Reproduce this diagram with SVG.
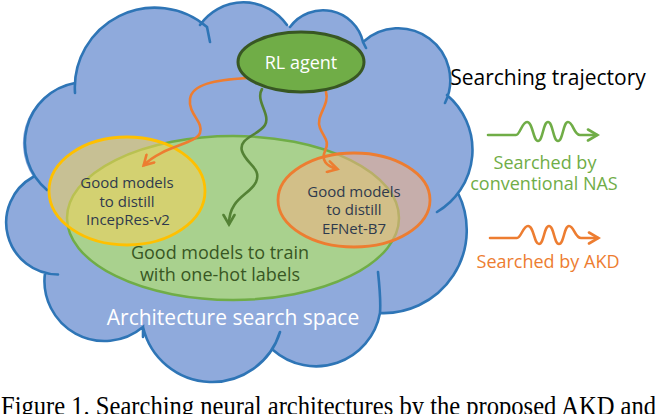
<svg xmlns="http://www.w3.org/2000/svg" width="656" height="414" viewBox="0 0 656 414">
<defs>
<style>
.cloud-fill{fill:#8FAADC;stroke:none}
.cloud-line{fill:none;stroke:#2E75B6;stroke-width:2.6;stroke-linecap:round}
.t{font-family:"Open Sans","Noto Sans",sans-serif}
.inner{font-size:15px;fill:#2F3A4D;text-anchor:middle}
.sq{fill:none;stroke-width:2.6;stroke-linecap:round;stroke-linejoin:round}
.or{stroke:#ED7D31}
.gr{stroke:#548235}
.lg{stroke:#70AD47}
</style>
<marker id="ah-or" viewBox="0 0 14 14" refX="11" refY="7" markerWidth="14" markerHeight="14" markerUnits="userSpaceOnUse" orient="auto">
<path d="M2,1.5 L11.5,7 L2,12.5" fill="none" stroke="#ED7D31" stroke-width="2.6" stroke-linejoin="miter" stroke-linecap="round"/>
</marker>
<marker id="ah-gr" viewBox="0 0 14 14" refX="11" refY="7" markerWidth="14" markerHeight="14" markerUnits="userSpaceOnUse" orient="auto">
<path d="M2,1.5 L11.5,7 L2,12.5" fill="none" stroke="#548235" stroke-width="2.6" stroke-linecap="round"/>
</marker>
<marker id="ah-lg" viewBox="0 0 14 14" refX="11" refY="7" markerWidth="14" markerHeight="14" markerUnits="userSpaceOnUse" orient="auto">
<path d="M2,1.5 L11.5,7 L2,12.5" fill="none" stroke="#70AD47" stroke-width="2.6" stroke-linecap="round"/>
</marker>
</defs>
<rect width="656" height="414" fill="#FFFFFF"/>

<g id="search-space">
<path class="cloud-fill" d="M75,83 A80 80 0 0 1 207,27 L200,25 A53 53 0 0 1 287,25 L290,27 A41 41 0 0 1 363,42 A52 52 0 0 1 445,103 L447,95 A72 72 0 0 1 437,212 L458,193 A83 83 0 0 1 380,313 A65 65 0 0 1 273,350 L280,332 A71 71 0 0 1 143,327 A60 60 0 0 1 45,273 A52 52 0 0 1 33,177 A61 61 0 0 1 75,83 Z"/>
<path class="cloud-line" d="M75,93 A80 80 0 0 1 207,27 L210,42 M200,25 A53 53 0 0 1 287,25 M290,27 A41 41 0 0 1 363,42 L366,48 M363,42 A52 52 0 0 1 445,103 M447,95 A72 72 0 0 1 437,212 M458,193 A83 83 0 0 1 380,313 M378,272 Q381,300 380,313 A65 65 0 0 1 273,350 M280,332 A71 71 0 0 1 143,327 M143,337 L143,327 A60 60 0 0 1 45,273 M58,274.5 A52 52 0 0 1 33,177 M47,190 A61 61 0 0 1 75,83"/>
</g>

<g id="node-one-hot">
<ellipse cx="233" cy="218" rx="166" ry="82" fill="#A9D18E" stroke="#70AD47" stroke-width="2.5"/>
</g>

<g id="node-distill-incepres">
<ellipse cx="127" cy="191" rx="78" ry="54" fill="#F5D25A" fill-opacity="0.55" stroke="#FFC000" stroke-width="2.8"/>
<text class="t inner" x="127" y="188">Good models</text>
<text class="t inner" x="127" y="207">to distill</text>
<text class="t inner" x="128" y="225">IncepRes-v2</text>
</g>

<g id="node-distill-efnet">
<ellipse cx="354" cy="200" rx="76" ry="47" fill="#F4B183" fill-opacity="0.55" stroke="#ED7D31" stroke-width="2.8"/>
<text class="t inner" x="354" y="197">Good models</text>
<text class="t inner" x="354" y="215">to distill</text>
<text class="t inner" x="354" y="234">EFNet-B7</text>
</g>

<g id="labels-one-hot">
<text class="t" x="220" y="259" font-size="18" fill="#385723" text-anchor="middle">Good models to train</text>
<text class="t" x="220" y="281" font-size="18" fill="#385723" text-anchor="middle">with one-hot labels</text>
<text class="t" x="233" y="325" font-size="21" fill="#FFFFFF" text-anchor="middle">Architecture search space</text>
</g>

<g id="connectors">
<path class="sq or" marker-end="url(#ah-or)" d="M247,78 C215,80 192,84 190,99 C188,114 204,122 200,133 C196,144 163,146 144,165"/>
<path class="sq gr" marker-end="url(#ah-gr)" d="M262,89 C255,101 271,114 265,125 C259,135 238,138 242,151 C246,164 262,168 256,182 C250,195 229,198 229,224"/>
<path class="sq or" marker-end="url(#ah-or)" d="M326,92 C330,105 315,116 320,128 C324,138 330,141 325,151 C321,160 326,166 337,169"/>
</g>

<g id="node-rl-agent">
<ellipse cx="301" cy="62" rx="63" ry="30" fill="#70AD47" stroke="#385723" stroke-width="3"/>
<text class="t" x="301" y="68.5" font-size="18" fill="#FFFFFF" text-anchor="middle">RL agent</text>
</g>

<g id="legend">
<text class="t" x="548" y="85" font-size="21" fill="#000000" text-anchor="middle">Searching trajectory</text>
<path class="sq lg" marker-end="url(#ah-lg)" d="M488,135 L516,135 C520,135 522,122 527,122 C533,122 533,141 538,141 C543,141 543,122 548,122 C553,122 553,141 558,141 C563,141 563,122 568,122 C573,122 574,135 580,135 L597,135"/>
<text class="t" x="545" y="169" font-size="18" fill="#70AD47" text-anchor="middle">Searched by</text>
<text class="t" x="544" y="190" font-size="18" fill="#70AD47" text-anchor="middle">conventional NAS</text>
<path class="sq or" marker-end="url(#ah-or)" d="M490,238 L517,238 C521,238 523,226 528,226 C534,226 534,244 539,244 C544,244 544,226 549,226 C554,226 554,244 559,244 C564,244 564,226 569,226 C574,226 575,238 581,238 L598,238"/>
<text class="t" x="548" y="268" font-size="18" fill="#ED7D31" text-anchor="middle">Searched by AKD</text>
</g>

<text id="caption" x="1" y="415" font-family="'Liberation Serif',serif" font-size="28" fill="#000000" textLength="655" lengthAdjust="spacingAndGlyphs">Figure 1. Searching neural architectures by the proposed AKD and</text>
</svg>
